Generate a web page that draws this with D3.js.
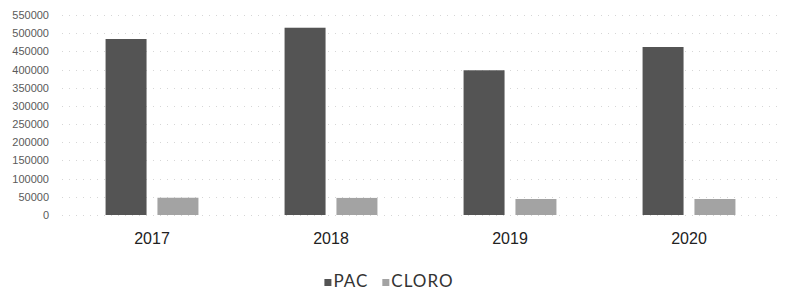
<!DOCTYPE html>
<html>
<body style="margin:0;background:#fff">
<meta charset="UTF-8">
<title>PAC / CLORO</title>
<style>
    body { font-family: Lato, "Open Sans", sans-serif; }
    .axis text { fill: #5a5a5a; font-size: 11px; }
    .year text { fill: #222; font-size: 16px; }
    .legend text { fill: #333; font-size: 17px; letter-spacing: 1px; }
</style>
<div id="chart"></div>
<script src="https://d3js.org/d3.v7.min.js"></script>
<script>

    var years = ["2017", "2018", "2019", "2020"];
    var series = ["PAC", "CLORO"];
    var pac = [484000, 515000, 398000, 462000];
    var cloro = [47500, 47000, 44000, 44000];
    var yTicks = [0, 50000, 100000, 150000, 200000, 250000, 300000, 350000, 400000, 450000, 500000, 550000];

    var colors = { "PAC": "#545454", "CLORO": "#a3a3a3" };

    var width = 785,
        height = 292;

    var svg = d3.select("#chart")
        .append("svg")
        .attr("width", width)
        .attr("height", height);

    var rows = years.map(function(y, i) {
        return { year: y, values: [ { key: "PAC", value: pac[i] }, { key: "CLORO", value: cloro[i] } ] };
    });

    var y = d3.scaleLinear()
        .domain([0, 550000])
        .range([215, 15]);

    var x0 = d3.scaleBand()
        .domain(years)
        .range([62.5, 778.5]);

    var x1 = d3.scaleBand()
        .domain(series)
        .range([0, x0.bandwidth()])
        .paddingInner(0.21)
        .paddingOuter(0.83);

    // faint gridlines (scan looks dotted)
    svg.append("g")
        .selectAll("line")
        .data(yTicks)
        .enter().append("line")
        .attr("x1", 62)
        .attr("x2", 779)
        .attr("y1", function(d) { return Math.round(y(d)) + 0.5; })
        .attr("y2", function(d) { return Math.round(y(d)) + 0.5; })
        .attr("stroke", "#d6d6d6")
        .attr("stroke-dasharray", "1,6");

    // y labels
    var yAxis = svg.append("g")
        .attr("class", "axis")
        .attr("transform", "translate(49,0)")
        .call(d3.axisLeft(y).tickValues(yTicks).tickSize(0).tickPadding(0).tickFormat(d3.format("d")));
    yAxis.select(".domain").remove();

    // bars
    var groups = svg.selectAll(".grp")
        .data(rows)
        .enter().append("g")
        .attr("class", "grp")
        .attr("transform", function(d) { return "translate(" + x0(d.year) + ",0)"; });

    groups.selectAll("rect")
        .data(function(d) { return d.values; })
        .enter().append("rect")
        .attr("x", function(d) { return x1(d.key); })
        .attr("width", x1.bandwidth())
        .attr("y", function(d) { return y(d.value); })
        .attr("height", function(d) { return y(0) - y(d.value); })
        .style("fill", function(d) { return colors[d.key]; });

    // year labels
    var xAxis = svg.append("g")
        .attr("class", "year")
        .attr("transform", "translate(0,233)")
        .call(d3.axisBottom(x0).tickSize(0).tickPadding(0));
    xAxis.select(".domain").remove();

    // legend
    var legend = svg.append("g").attr("class", "legend");
    var lx = 0;
    series.forEach(function(s, i) {
        legend.append("rect")
            .attr("x", lx).attr("y", -8)
            .attr("width", 7).attr("height", 7)
            .style("fill", colors[s]);
        var t = legend.append("text")
            .attr("x", lx + 9)
            .attr("y", 0)
            .text(s);
        lx += 9 + t.node().getComputedTextLength() + 14;
    });
    var lw = lx - 14;
    legend.attr("transform", "translate(" + (389 - lw / 2) + ",287)");

</script>
</body>
</html>
